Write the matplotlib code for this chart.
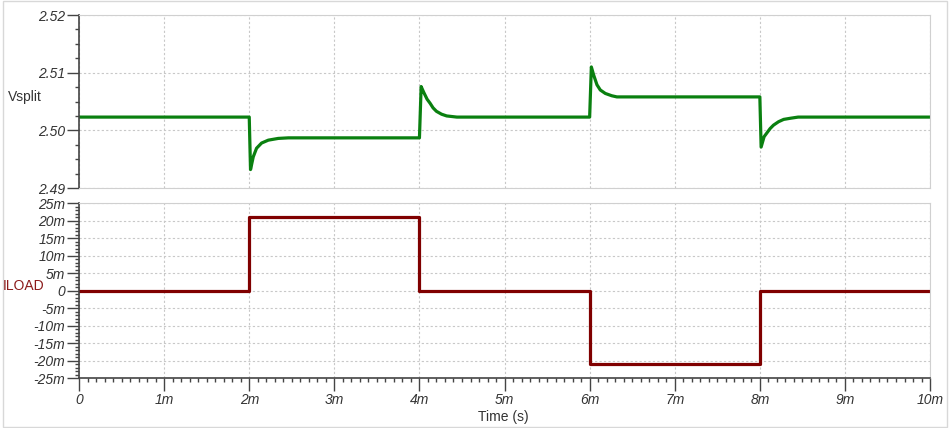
import matplotlib.pyplot as plt
from matplotlib.ticker import MultipleLocator
from matplotlib.patches import Rectangle

plt.rcParams['font.family'] = ['Liberation Sans', 'DejaVu Sans']

# Vsplit transient (time in ms, volts)
vsplit_t = [0, 2.0, 2.015, 2.047, 2.086, 2.145, 2.224, 2.34, 2.46,
            4.0, 4.02, 4.05, 4.09, 4.125, 4.16, 4.20, 4.26, 4.32, 4.44,
            6.0, 6.02, 6.047, 6.086, 6.125, 6.184, 6.26, 6.32,
            8.0, 8.015, 8.05, 8.08, 8.12, 8.16, 8.22, 8.28, 8.36, 8.45, 10.0]
vsplit_v = [2.5023, 2.5023, 2.4932, 2.4954, 2.4969, 2.4978, 2.4983, 2.4986, 2.4987,
            2.4987, 2.5076, 2.5066, 2.5054, 2.5047, 2.5039, 2.5033, 2.5028, 2.5025, 2.5023,
            2.5023, 2.5110, 2.5096, 2.5079, 2.5070, 2.5064, 2.5060, 2.5058,
            2.5058, 2.4971, 2.4989, 2.4995, 2.5003, 2.5009, 2.5015, 2.5019, 2.5021, 2.5023, 2.5023]

# load current steps (ms, mA)
iload_t = [0, 2, 4, 6, 8, 10]
iload_ma = [0, 21, 0, -21, 0, 0]

x_ticks = [0, 1, 2, 3, 4, 5, 6, 7, 8, 9, 10]
x_labels = ['0', '1m', '2m', '3m', '4m', '5m', '6m', '7m', '8m', '9m', '10m']
v_ticks = [2.49, 2.50, 2.51, 2.52]
v_labels = ['2.49', '2.50', '2.51', '2.52']
i_ticks = [-25, -20, -15, -10, -5, 0, 5, 10, 15, 20, 25]
i_labels = ['-25m', '-20m', '-15m', '-10m', '-5m', '0', '5m', '10m', '15m', '20m', '25m']

fig = plt.figure(figsize=(9.5, 4.28), dpi=100)
fig.patches.append(Rectangle((0.003, 0.003), 0.994, 0.994, transform=fig.transFigure,
                             fill=False, edgecolor='#d8d8d8', lw=1))

ax1 = fig.add_axes([0.0832, 0.5607, 0.8958, 0.4042])
ax2 = fig.add_axes([0.0832, 0.1168, 0.8958, 0.4089])

lab_color = '#333333'
for ax in (ax1, ax2):
    ax.set_xlim(0, 10)
    ax.set_xticks(x_ticks)
    ax.xaxis.set_minor_locator(MultipleLocator(0.1))
    ax.grid(True, which='major', color='#c8c8c8', linestyle=(0, (2, 2)), lw=0.8)
    for s in ('top', 'right', 'bottom'):
        ax.spines[s].set_color('#d0d0d0')
    ax.spines['left'].set_color('#444444')
    ax.spines['left'].set_linewidth(1.2)
    ax.tick_params(axis='y', which='major', length=9, width=1, color='#444444',
                   labelsize=10, labelcolor=lab_color, pad=1)
    ax.tick_params(axis='y', which='minor', length=3, width=1, color='#444444')

ax1.plot(vsplit_t, vsplit_v, color='#0a8010', lw=2.3, solid_joinstyle='round')
ax1.set_ylim(2.49, 2.52)
ax1.set_yticks(v_ticks)
ax1.set_yticklabels(v_labels, fontstyle='italic')
ax1.yaxis.set_minor_locator(MultipleLocator(0.0025))
ax1.tick_params(axis='x', which='both', length=0, labelbottom=False)

ax2.step(iload_t, iload_ma, where='post', color='#800000', lw=2.3)
ax2.set_ylim(-25, 25)
ax2.set_yticks(i_ticks)
ax2.set_yticklabels(i_labels, fontstyle='italic')
ax2.yaxis.set_minor_locator(MultipleLocator(1))
ax2.spines['bottom'].set_color('#444444')
ax2.spines['bottom'].set_linewidth(1.2)
ax2.set_xticklabels(x_labels, fontstyle='italic')
ax2.tick_params(axis='x', which='major', length=9, width=1, color='#444444',
                labelsize=10, labelcolor=lab_color, pad=2)
ax2.tick_params(axis='x', which='minor', length=3, width=1, color='#444444')

fig.text(0.0085, 0.773, 'Vsplit', fontsize=10, color='#333333', va='center', ha='left')
fig.text(0.003, 0.332, 'ILOAD', fontsize=10, color='#8b1a1a', va='center', ha='left')
fig.text(0.53, 0.026, 'Time (s)', fontsize=10, color='#333333', va='center', ha='center')

fig.savefig('out.png', dpi=100)
